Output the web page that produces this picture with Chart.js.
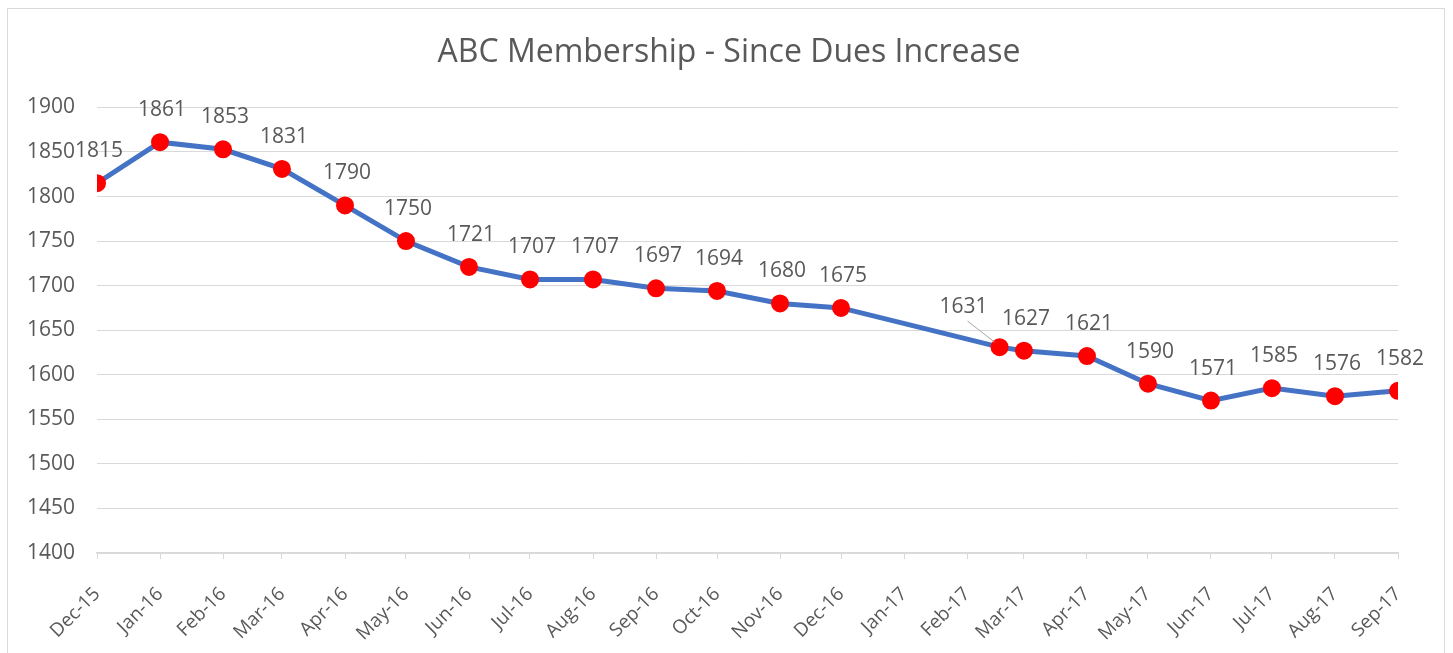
<!DOCTYPE html>
<html lang="en">

<head>
    <meta charset="UTF-8" />
    <title>ABC Membership - Since Dues Increase</title>
    <script src="https://cdn.jsdelivr.net/npm/chart.js"></script>
    <style>
        body { margin: 0; background: #fff; overflow: hidden; }
        #frame { position: absolute; left: 7px; top: 8px; width: 1436px; height: 700px; border: 1px solid #d9d9d9; }
    </style>
</head>

<body>
    <div id="frame">
        <canvas id="memberChart" width="1436" height="645"></canvas>
    </div>

    <script>
        // reading dates and membership counts
        const dates = ['2015-12-01', '2016-01-01', '2016-02-01', '2016-03-01', '2016-04-01', '2016-05-01',
            '2016-06-01', '2016-07-01', '2016-08-01', '2016-09-01', '2016-10-01', '2016-11-01', '2016-12-01',
            '2017-02-17', '2017-03-01', '2017-04-01', '2017-05-01', '2017-06-01', '2017-07-01', '2017-08-01', '2017-09-01'];
        const members = [1815, 1861, 1853, 1831, 1790, 1750, 1721, 1707, 1707, 1697, 1694, 1680, 1675,
            1631, 1627, 1621, 1590, 1571, 1585, 1576, 1582];

        // month ticks on the x axis
        const tickDates = ['2015-12-01', '2016-01-01', '2016-02-01', '2016-03-01', '2016-04-01', '2016-05-01',
            '2016-06-01', '2016-07-01', '2016-08-01', '2016-09-01', '2016-10-01', '2016-11-01', '2016-12-01',
            '2017-01-01', '2017-02-01', '2017-03-01', '2017-04-01', '2017-05-01', '2017-06-01', '2017-07-01',
            '2017-08-01', '2017-09-01'];
        const tickLabels = ['Dec-15', 'Jan-16', 'Feb-16', 'Mar-16', 'Apr-16', 'May-16', 'Jun-16', 'Jul-16',
            'Aug-16', 'Sep-16', 'Oct-16', 'Nov-16', 'Dec-16', 'Jan-17', 'Feb-17', 'Mar-17', 'Apr-17', 'May-17',
            'Jun-17', 'Jul-17', 'Aug-17', 'Sep-17'];

        const yTicks = [1400, 1450, 1500, 1550, 1600, 1650, 1700, 1750, 1800, 1850, 1900];

        const FONT = "'Open Sans', sans-serif";
        const TEXT = '#595959';

        function dayOf(s) {
            const p = s.split('-').map(Number);
            return Date.UTC(p[0], p[1] - 1, p[2]) / 86400000;
        }
        const day0 = dayOf(tickDates[0]);

        // label nudges (the one Excel moved off its point, with a leader line)
        const labelShift = { 13: { dx: -36, dy: -40, leader: true } };

        const valueLabels = {
            id: 'valueLabels',
            afterDatasetsDraw(chart) {
                const ctx = chart.ctx;
                const meta = chart.getDatasetMeta(0);
                ctx.save();
                ctx.font = '21px ' + FONT;
                ctx.fillStyle = TEXT;
                ctx.textAlign = 'center';
                ctx.textBaseline = 'middle';
                meta.data.forEach((pt, i) => {
                    const s = labelShift[i] || { dx: 2, dy: -32 };
                    const lx = pt.x + s.dx, ly = pt.y + s.dy;
                    if (s.leader) {
                        ctx.strokeStyle = '#a6a6a6';
                        ctx.lineWidth = 1;
                        ctx.beginPath();
                        ctx.moveTo(lx + 4, ly + 14);
                        ctx.lineTo(pt.x - 5, pt.y - 5);
                        ctx.stroke();
                    }
                    ctx.fillText(members[i], lx, ly);
                });
                ctx.restore();
            }
        };

        const ctx = document.getElementById('memberChart').getContext('2d');

        const chart = new Chart(ctx, {
            type: 'line',
            data: {
                datasets: [{
                    label: 'Members',
                    data: dates.map((d, i) => ({ x: dayOf(d) - day0, y: members[i] })),
                    borderColor: '#4472C4',
                    borderWidth: 5,
                    pointBackgroundColor: '#FF0000',
                    pointBorderColor: '#FF0000',
                    pointRadius: 6.5,
                    tension: 0
                }]
            },
            options: {
                responsive: false,
                animation: false,
                layout: { padding: { left: 6, right: 0, bottom: 0 } },
                plugins: {
                    legend: { display: false },
                    tooltip: { enabled: false },
                    title: {
                        display: true,
                        text: 'ABC Membership - Since Dues Increase',
                        color: TEXT,
                        font: { family: FONT, size: 32, weight: 'normal', lineHeight: 1.2 },
                        padding: { top: 25, bottom: 35 }
                    }
                },
                scales: {
                    x: {
                        type: 'linear',
                        min: 0,
                        max: dayOf(tickDates[tickDates.length - 1]) - day0,
                        afterBuildTicks: (scale) => {
                            scale.ticks = tickDates.map(d => ({ value: dayOf(d) - day0 }));
                        },
                        afterFit: (scale) => { scale.height = 101; },
                        grid: { drawOnChartArea: false, drawTicks: true, tickLength: 6, color: '#d9d9d9' },
                        border: { color: '#d9d9d9', width: 1.5 },
                        ticks: {
                            autoSkip: false,
                            minRotation: 45,
                            maxRotation: 45,
                            padding: 24,
                            color: TEXT,
                            font: { family: FONT, size: 19 },
                            callback: (v, i) => tickLabels[i]
                        }
                    },
                    y: {
                        min: yTicks[0],
                        max: yTicks[yTicks.length - 1],
                        afterBuildTicks: (scale) => {
                            scale.ticks = yTicks.map(v => ({ value: v }));
                        },
                        afterFit: (scale) => { scale.width = 83; },
                        grid: { color: '#d9d9d9', drawTicks: false },
                        border: { display: false },
                        ticks: {
                            padding: 22,
                            color: TEXT,
                            font: { family: FONT, size: 21 },
                            callback: (v) => String(v)
                        }
                    },
                    // empty right-hand axis, only to leave the margin on the right
                    yRight: {
                        position: 'right',
                        min: yTicks[0],
                        max: yTicks[yTicks.length - 1],
                        afterFit: (scale) => { scale.width = 46; },
                        grid: { display: false },
                        border: { display: false },
                        ticks: { display: false }
                    }
                }
            },
            plugins: [valueLabels]
        });
    </script>
</body>

</html>
